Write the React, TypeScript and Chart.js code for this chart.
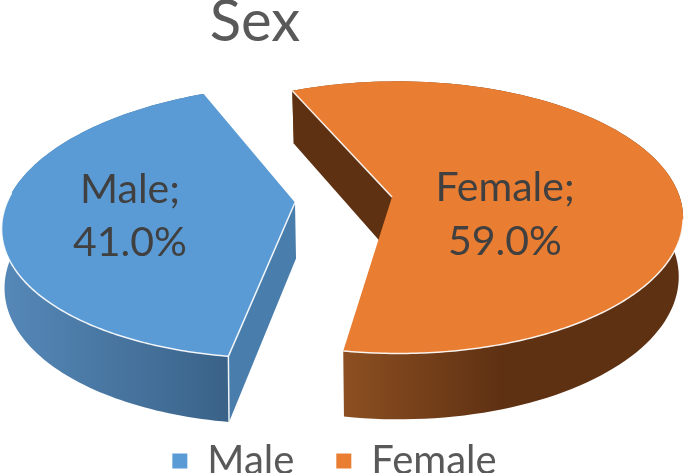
import React, { useEffect, useRef } from "react";
import { Chart, registerables } from "chart.js";

Chart.register(...registerables);

const categories = ["Male", "Female"];
const shares = [41.0, 59.0];
const sliceColors = ["#5B9BD5", "#E97D32"];

type View = { ax: number; ay: number; a: number; b: number; c: number; p: number; q: number; sx: number };
const views: View[] = [
  { ax: 295, ay: 202.5, a: 288, b: -15, c: 134, p: 0.14, q: 0, sx: 0.99 },
  { ax: 392, ay: 197, a: 282, b: 0, c: 133, p: 0.15, q: 0.02, sx: 0.985 },
];
const DEPTH = 58;
const labelSpots = [
  { x: 130, y: 190, gap: 53 },
  { x: 505, y: 188, gap: 54 },
];

function pt(v: View, t: number, lower = false) {
  const x = Math.cos(t), z = Math.sin(t);
  const d = 1 - v.p * z - v.q * x;
  const sx = lower ? v.sx : 1, sy = lower ? 1.05 : 1;
  return {
    x: v.ax + (sx * (v.a * x + v.b * z)) / d,
    y: v.ay + (lower ? DEPTH : 0) + (sy * v.c * z) / d,
  };
}
function arcPts(v: View, t0: number, t1: number, lower = false) {
  const out: { x: number; y: number }[] = [];
  const n = 120;
  for (let i = 0; i <= n; i++) out.push(pt(v, t0 + ((t1 - t0) * i) / n, lower));
  return out;
}
function poly(ctx: CanvasRenderingContext2D, pts: { x: number; y: number }[]) {
  ctx.beginPath();
  pts.forEach((p, i) => (i ? ctx.lineTo(p.x, p.y) : ctx.moveTo(p.x, p.y)));
}

const pie3d = {
  id: "pie3d",
  afterLayout(chart: any) {
    const t = chart.titleBlock;
    t.left = 155; t.right = 355; t.top = -13; t.bottom = 57;
    const l = chart.legend;
    const w = l.right - l.left;
    l.left = -8; l.right = -8 + w; l.top = 399; l.bottom = 473;
  },
  beforeDatasetDraw(chart: any, args: any) {
    const ctx: CanvasRenderingContext2D = chart.ctx;
    const meta = chart.getDatasetMeta(args.index);
    const [male, female] = meta.data;
    ctx.save();
    ctx.lineJoin = "round";
    const white = "rgba(255,255,255,0.9)";

    // Male slice
    {
      const v = views[0];
      const s = male.startAngle, e = male.endAngle;
      const g = ctx.createLinearGradient(3, 0, 229, 0);
      g.addColorStop(0, "#5588B8");
      g.addColorStop(1, "#3A6288");
      poly(ctx, [...arcPts(v, s, e), ...arcPts(v, s, e, true).reverse()]);
      ctx.closePath();
      ctx.fillStyle = g;
      ctx.fill();
      poly(ctx, [{ x: v.ax, y: v.ay }, pt(v, s), pt(v, s, true), { x: v.ax + 1, y: v.ay + DEPTH - 2 }]);
      ctx.closePath();
      ctx.fillStyle = "#497DAB";
      ctx.fill();
      poly(ctx, [{ x: v.ax, y: v.ay }, ...arcPts(v, s, e)]);
      ctx.closePath();
      ctx.fillStyle = sliceColors[0];
      ctx.fill();
      ctx.strokeStyle = white;
      ctx.lineWidth = 1.5;
      poly(ctx, [{ x: v.ax, y: v.ay }, pt(v, s), pt(v, s, true)]);
      ctx.stroke();
      poly(ctx, arcPts(v, s, s + (e - s) * 0.58));
      ctx.stroke();
    }

    // Female slice
    {
      const v = views[1];
      const s = female.startAngle, e = female.endAngle;
      const g = ctx.createLinearGradient(344, 0, 500, 0);
      g.addColorStop(0, "#8C4F21");
      g.addColorStop(1, "#5F3113");
      poly(ctx, [...arcPts(v, s, e), ...arcPts(v, s, e, true).reverse()]);
      ctx.closePath();
      ctx.fillStyle = g;
      ctx.fill();
      poly(ctx, [{ x: v.ax, y: v.ay }, pt(v, s), pt(v, s, true), { x: v.ax, y: v.ay + DEPTH }]);
      ctx.closePath();
      ctx.fillStyle = "#5F3113";
      ctx.fill();
      poly(ctx, [{ x: v.ax, y: v.ay }, ...arcPts(v, s, e)]);
      ctx.closePath();
      ctx.fillStyle = sliceColors[1];
      ctx.fill();
      ctx.strokeStyle = white;
      ctx.lineWidth = 1.5;
      poly(ctx, [{ x: v.ax, y: v.ay }, pt(v, s)]);
      ctx.stroke();
      poly(ctx, arcPts(v, s + (e - s) * 0.58, e));
      ctx.stroke();
    }

    // Data labels
    ctx.fillStyle = "#404040";
    ctx.font = '41px Lato, "Open Sans", sans-serif';
    ctx.textAlign = "center";
    ctx.textBaseline = "middle";
    categories.forEach((c, i) => {
      ctx.fillText(`${c};`, labelSpots[i].x, labelSpots[i].y);
      ctx.fillText(`${shares[i].toFixed(1)}%`, labelSpots[i].x, labelSpots[i].y + labelSpots[i].gap);
    });
    ctx.restore();
    return false;
  },
};

export default function App() {
  const ref = useRef<HTMLCanvasElement>(null);
  useEffect(() => {
    document.body.style.margin = "0";
    const chart = new Chart(ref.current!, {
      type: "pie",
      data: {
        labels: categories,
        datasets: [{ data: shares, backgroundColor: sliceColors, borderWidth: 0 }],
      },
      options: {
        responsive: false,
        animation: false,
        rotation: 188.5,
        plugins: {
          title: {
            display: true,
            text: "Sex",
            color: "#595959",
            font: { family: 'Lato, "Open Sans", sans-serif', size: 58, weight: "normal" },
            padding: 0,
          },
          legend: {
            position: "bottom",
            labels: {
              usePointStyle: true,
              pointStyle: "rect",
              boxWidth: 15,
              boxHeight: 15,
              padding: 42,
              color: "#595959",
              font: { family: 'Lato, "Open Sans", sans-serif', size: 40 },
            },
          },
          tooltip: { enabled: false },
        },
      } as any,
      plugins: [pie3d as any],
    });
    return () => chart.destroy();
  }, []);
  return <canvas ref={ref} width={685} height={473} style={{ display: "block" }} />;
}
